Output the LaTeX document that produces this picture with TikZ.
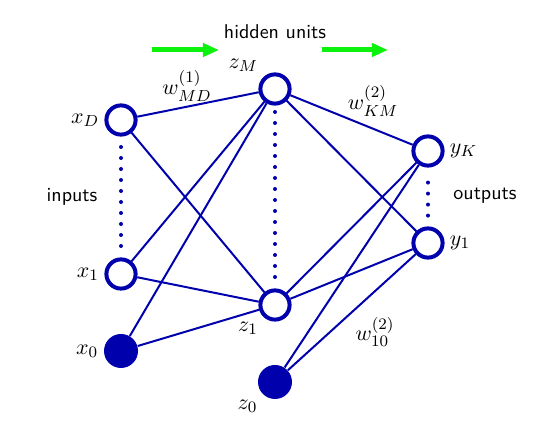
\documentclass[tikz,border=0pt]{standalone}
\usepackage{amsmath}
\usetikzlibrary{arrows.meta,positioning}
\definecolor{netblue}{rgb}{0,0,0.68}
\definecolor{flowgreen}{rgb}{0.05,0.95,0.05}
\tikzset{
  unit/.style={
    circle,
    draw=netblue,
    line width=2pt,
    fill=white,
    minimum size=14.6pt,
    inner sep=0pt
  },
  bias/.style={
    circle,
    fill=netblue,
    minimum size=17pt,
    inner sep=0pt
  },
  link/.style={
    netblue,
    line width=1pt
  },
  dots/.style={
    netblue,
    line width=2pt,
    line cap=round,
    dash pattern=on 0pt off 5.5pt
  },
  flow/.style={
    -{Triangle[length=8pt,width=6.5pt]},
    line width=2.5pt,
    flowgreen
  },
  tag/.style={font=\sffamily},
  wlbl/.style={font=\fontsize{11}{13}\selectfont},
  every label/.append style={font=\fontsize{11}{13}\selectfont, inner sep=2.5pt}
}

\begin{document}
\begin{tikzpicture}[x=0.5pt,y=-0.5pt]
\useasboundingbox (0,0) rectangle (554,426);
% units
\node[unit,label=left:$x_D$] (xD) at (121,120) {};
\node[unit,label=left:$x_1$] (x1) at (121,274) {};
\node[bias,label=left:$x_0$] (x0) at (121,351) {};
\node[unit,label=above left:$z_M$] (zM) at (275,89) {};
\node[unit,label=below left:$z_1$] (z1) at (275,305) {};
\node[bias,label=below left:$z_0$] (z0) at (275,382) {};
\node[unit,label=right:$y_K$] (yK) at (428,151) {};
\node[unit,label=right:$y_1$] (y1) at (428,243) {};
% texts
\node[tag] (hid) at (275,32) {hidden units};
\node[tag] (inp) at (72,197) {inputs};
\node[tag] (outp) at (485,196) {outputs};
\node[wlbl] (w1) at (187,86) {$w^{(1)}_{MD}$};
\node[wlbl] (w2) at (373,101) {$w^{(2)}_{KM}$};
\node[wlbl] (w3) at (375,332) {$w^{(2)}_{10}$};
% first layer
\foreach \a in {xD,x1,x0}
  \foreach \b in {zM,z1}
    \draw[link] (\a) -- (\b);
% second layer
\foreach \a in {zM,z1,z0}
  \foreach \b in {yK,y1}
    \draw[link] (\a) -- (\b);
% dotted columns
\draw[dots,shorten <=5.2pt,shorten >=5.2pt] (xD) -- (x1);
\draw[dots,shorten <=3.2pt,shorten >=4.7pt] (zM) -- (z1);
\draw[dots,shorten <=7.5pt,shorten >=5pt] (yK) -- (y1);
% green arrows
\coordinate (fa) at (152,50);
\coordinate (fb) at (219,50);
\coordinate (fc) at (322,50);
\coordinate (fd) at (388,50);
\draw[flow] (fa) -- (fb);
\draw[flow] (fc) -- (fd);
\end{tikzpicture}
\end{document}
